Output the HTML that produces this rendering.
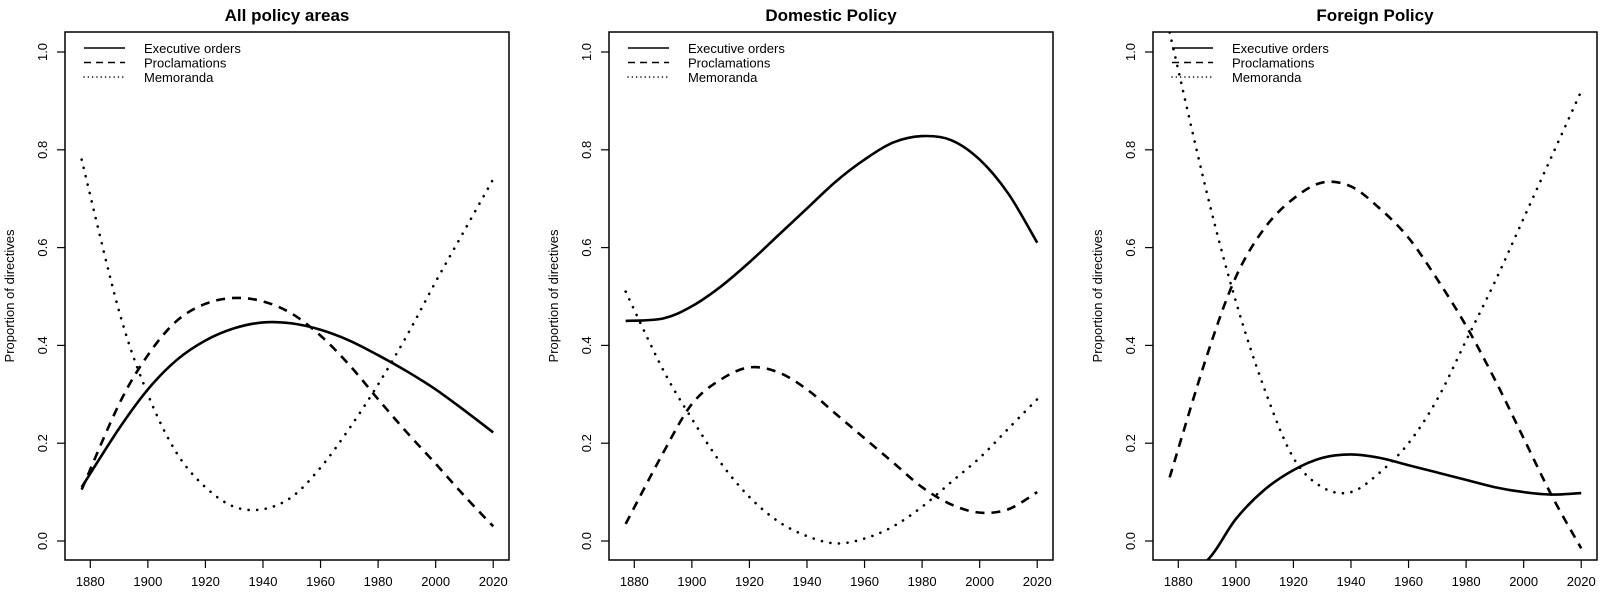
<!DOCTYPE html>
<html><head><meta charset="utf-8"><style>
html,body{margin:0;padding:0;background:#fff;overflow:hidden;width:1600px;height:593px;}
svg{display:block;font-family:"Liberation Sans",Arial,sans-serif;overflow:hidden;}
</style></head><body>
<svg id="chart" width="1600" height="593" viewBox="0 0 1600 593"></svg>
<script>
const panelTitles = ["All policy areas", "Domestic Policy", "Foreign Policy"];
const xTicks = [1880, 1900, 1920, 1940, 1960, 1980, 2000, 2020];
const yTicks = [0.0, 0.2, 0.4, 0.6, 0.8, 1.0];
const seriesNames = ["Executive orders", "Proclamations", "Memoranda"];

const years = [1877, 1890, 1900, 1910, 1920, 1930, 1940, 1950, 1960, 1970, 1980, 1990, 2000, 2010, 2020];
// Panel 1: All policy areas
const allExec = [0.11, 0.23, 0.31, 0.37, 0.41, 0.435, 0.447, 0.445, 0.432, 0.41, 0.38, 0.347, 0.31, 0.267, 0.222];
const allProc = [0.105, 0.28, 0.38, 0.45, 0.485, 0.497, 0.49, 0.465, 0.42, 0.36, 0.29, 0.222, 0.158, 0.092, 0.03];
const allMemo = [0.78, 0.47, 0.30, 0.18, 0.11, 0.07, 0.065, 0.09, 0.15, 0.23, 0.32, 0.42, 0.53, 0.635, 0.74];
// Panel 2: Domestic
const domExec = [0.45, 0.455, 0.48, 0.52, 0.57, 0.625, 0.68, 0.735, 0.78, 0.815, 0.828, 0.82, 0.78, 0.71, 0.61];
const domProc = [0.035, 0.18, 0.28, 0.33, 0.355, 0.345, 0.31, 0.26, 0.21, 0.16, 0.11, 0.075, 0.058, 0.065, 0.10];
const domMemo = [0.51, 0.35, 0.25, 0.16, 0.09, 0.04, 0.01, -0.005, 0.005, 0.03, 0.07, 0.12, 0.17, 0.23, 0.29];
// Panel 3: Foreign
const forExec = [-0.09, -0.04, 0.045, 0.105, 0.145, 0.17, 0.177, 0.17, 0.155, 0.14, 0.125, 0.11, 0.10, 0.095, 0.098];
const forProc = [0.13, 0.38, 0.54, 0.64, 0.70, 0.733, 0.725, 0.68, 0.62, 0.535, 0.44, 0.33, 0.21, 0.09, -0.015];
const forMemo = [1.04, 0.71, 0.49, 0.31, 0.17, 0.11, 0.10, 0.14, 0.20, 0.29, 0.41, 0.53, 0.66, 0.79, 0.92];

const panelData = [[allExec, allProc, allMemo],[domExec, domProc, domMemo],[forExec, forProc, forMemo]];

const NS = "http://www.w3.org/2000/svg";
const svg = document.getElementById("chart");
function mk(tag, attrs, parent){
  const e = document.createElementNS(NS, tag);
  for (const k in attrs) e.setAttribute(k, attrs[k]);
  (parent||svg).appendChild(e);
  return e;
}
const styles = [
  {w:2.6, dash:null, cap:"butt"},
  {w:2.6, dash:"9 7", cap:"butt"},
  {w:2.6, dash:"0.1 8.5", cap:"round"}
];
function pathFrom(pts){
  let d = "M" + pts[0][0] + "," + pts[0][1];
  for (let i=0;i<pts.length-1;i++){
    const p0 = pts[Math.max(0,i-1)], p1 = pts[i], p2 = pts[i+1], p3 = pts[Math.min(pts.length-1,i+2)];
    const c1x = p1[0]+(p2[0]-p0[0])/6, c1y = p1[1]+(p2[1]-p0[1])/6;
    const c2x = p2[0]-(p3[0]-p1[0])/6, c2y = p2[1]-(p3[1]-p1[1])/6;
    d += " C"+c1x+","+c1y+" "+c2x+","+c2y+" "+p2[0]+","+p2[1];
  }
  return d;
}

for (let p=0;p<3;p++){
  const off = p*544;
  const L = 65+off, R = 509+off, T = 32, B = 560;
  const xs = v => 90.3+off + (v-1880)*2.878;
  const ys = v => 541 - v*489;
  const g = mk("g", {});
  
  

  const title = mk("text", {x:(L+R)/2, y:21, "text-anchor":"middle", "font-size":"17", "font-weight":"bold"}, g);
  title.textContent = panelTitles[p];
  
  

  const clipId = "clip"+p;
  const cp = mk("clipPath", {id:clipId}, g);
  mk("rect", {x:L, y:T, width:R-L, height:B-T}, cp);

  for (let s=0;s<3;s++){
    const vals = panelData[p][s];
    const pts = years.map((y,i)=>[xs(y), ys(vals[i])]);
    const path = mk("path", {d:pathFrom(pts), fill:"none", stroke:"#000", "stroke-width":styles[s].w, "stroke-linecap":styles[s].cap, "clip-path":"url(#"+clipId+")"}, g);
    if (styles[s].dash) path.setAttribute("stroke-dasharray", styles[s].dash);
    
    
  }

  const box = mk("rect", {x:L, y:T, width:R-L, height:B-T, fill:"none", stroke:"#000", "stroke-width":1.5}, g);
  
  

  xTicks.forEach(t=>{
    const x = xs(t);
    mk("line", {x1:x, x2:x, y1:B, y2:B+8, stroke:"#000", "stroke-width":1.2}, g);
    const tx = mk("text", {x:x, y:586, "text-anchor":"middle", "font-size":"13"}, g);
    tx.textContent = t;
    
    
  });
  yTicks.forEach(t=>{
    const y = ys(t);
    mk("line", {x1:L, x2:L-8, y1:y, y2:y, stroke:"#000", "stroke-width":1.2}, g);
    const tx = mk("text", {x:0, y:0, "text-anchor":"middle", "font-size":"13", transform:"translate("+(L-18)+","+y+") rotate(-90)"}, g);
    tx.textContent = t.toFixed(1);
    
    
  });
  const yt = mk("text", {x:0, y:0, "text-anchor":"middle", "font-size":"13", transform:"translate("+(14+off)+",296) rotate(-90)"}, g);
  yt.textContent = "Proportion of directives";
  
  

  for (let s=0;s<3;s++){
    const ly = 48 + s*14.5;
    const ln = mk("line", {x1:84+off, x2:125+off, y1:ly, y2:ly, stroke:"#000", "stroke-width":1.5, "stroke-linecap":styles[s].cap}, g);
    if (s===1) ln.setAttribute("stroke-dasharray","7 5");
    if (s===2) ln.setAttribute("stroke-dasharray","0.1 4.2");
    const lt = mk("text", {x:144+off, y:ly+5, "font-size":"13"}, g);
    lt.textContent = seriesNames[s];
    
    
  }
}
</script>
</body></html>
